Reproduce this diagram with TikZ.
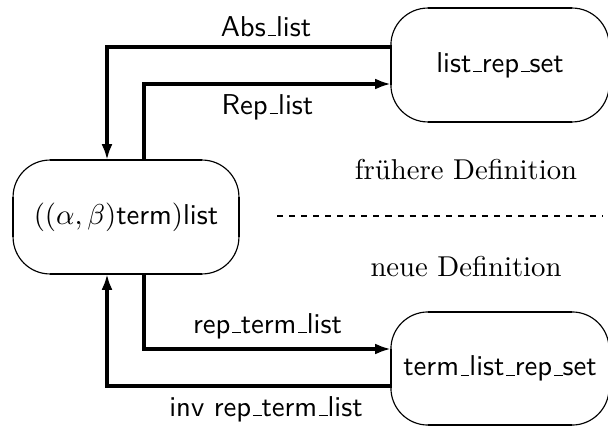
\documentclass[tikz,border=0pt]{standalone}
\usepackage{amsmath, amssymb}
\usepackage{tikz}
\usetikzlibrary{calc, arrows.meta}

\newcommand{\usc}{\leavevmode\kern.06em\vbox{\hrule width .3em}}

\tikzset{
  defbox/.style={draw, line width=0.4pt, rounded corners=12.9pt, outer sep=0pt,
                 inner sep=0pt, font=\sffamily},
  edgeline/.style={line width=0.75pt},
  conn/.style={line width=1.2pt, -{Latex[length=5.5pt,width=3.8pt]}},
  plain/.style={line width=1pt},
  lbl/.style={font=\sffamily, inner sep=3pt}
}

\begin{document}
\begin{tikzpicture}[x=0.3484pt, y=0.3484pt]
            \useasboundingbox (0,0) rectangle (608,425);
            \node[defbox, minimum width=78.7pt, minimum height=39.7pt] (tl) at (126,208)
                {$((\alpha,\beta)$term$)$list};
            \node[defbox, minimum width=76pt, minimum height=39.7pt] (lrs) at (500,360)
                {list\usc rep\usc set};
            \node[defbox, minimum width=76pt, minimum height=39.4pt] (tlrs) at (500,56.5)
                {term\usc list\usc rep\usc set};
            \foreach \b in {tl, lrs, tlrs} {
                \draw[edgeline] ([xshift=12.9pt]\b.north west) -- ([xshift=-12.9pt]\b.north east);
                \draw[edgeline] ([xshift=12.9pt]\b.south west) -- ([xshift=-12.9pt]\b.south east);
                \draw[edgeline] ([yshift=-12.9pt]\b.north west) -- ([yshift=12.9pt]\b.south west);
                \draw[edgeline] ([yshift=-12.9pt]\b.north east) -- ([yshift=12.9pt]\b.south east);
            }
            \draw[conn] ($(lrs.west)+(0,18)$) -| ($(tl.north)+(-19,0)$)
                node[lbl, above, pos=0.22] {Abs\usc list};
            \draw[conn] ($(tl.north)+(18,0)$) |- ($(lrs.west)+(0,-19)$)
                node[lbl, below, pos=0.75] {Rep\usc list};
            \draw[conn] ($(tl.south)+(18,0)$) |- ($(tlrs.west)+(0,19.5)$)
                node[lbl, above, pos=0.75] {rep\usc term\usc list};
            \draw[conn] ($(tlrs.west)+(0,-17.5)$) -| ($(tl.south)+(-19,0)$)
                node[lbl, below, pos=0.22] {inv rep\usc term\usc list};
            \coordinate (cutl) at (277,209);
            \coordinate (cutr) at (603,209);
            \draw[plain, dash pattern=on 2.1pt off 2.1pt] (cutl) -- (cutr);
            \node (old) at (466,255) {frühere Definition};
            \node (new) at (466,158) {neue Definition};
        \end{tikzpicture}
\end{document}
